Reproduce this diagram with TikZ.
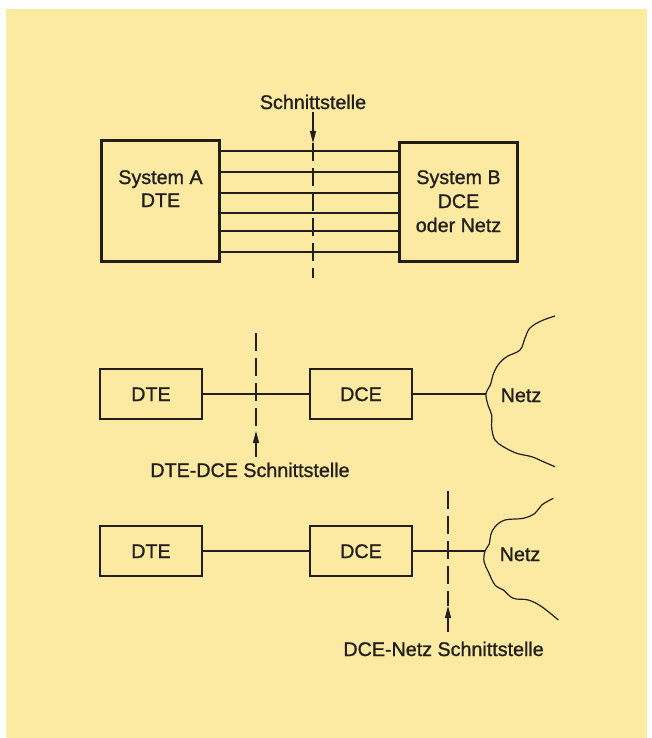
\documentclass[tikz,border=0pt]{standalone}
\usepackage{fontspec}
\setmainfont{Liberation Sans}
\newfontfamily\medfont{Liberation Sans}[FakeBold=1.1]
\usetikzlibrary{arrows.meta}
\definecolor{paper}{RGB}{252,233,162}
\definecolor{ink}{RGB}{34,31,27}
\begin{document}
\begin{tikzpicture}[x=1pt,y=-1pt,
  box/.style={draw=ink, line width=2.6pt, inner sep=0pt},
  lbl/.style={font=\medfont\fontsize{19.7}{23.5}\selectfont, text=ink, inner sep=0pt, anchor=base},
  wire/.style={draw=ink, line width=1.3pt},
  cut/.style={draw=ink, line width=1.3pt, dash pattern=on 18pt off 7pt},
  arr/.style={draw=ink, line width=1.2pt, -{Triangle[length=12pt,width=6pt]}},
  cloud/.style={draw=ink, line width=1.2pt, smooth, tension=0.6}
]
\useasboundingbox (0,0) rectangle (652,738);
\fill[white] (0,0) rectangle (652,738);
\fill[paper] (6,9) rectangle (647,738);

% ---------- top ----------
\node[box, minimum width=118.4pt, minimum height=121.4pt] (sysA) at (160.5,201) {};
\node[box, minimum width=118.4pt, minimum height=119.4pt] (sysB) at (458.5,202) {};
\node[lbl] (tA1) at (160.5,184) {System A};
\node[lbl] (tA2) at (160.5,207) {DTE};
\node[lbl] (tB1) at (458.5,184) {System B};
\node[lbl] (tB2) at (458.5,208) {DCE};
\node[lbl] (tB3) at (458.5,232) {oder Netz};
\foreach \yy in {151,172,193,213,231,252}{
  \draw[wire] (sysA.east |- 0,\yy) -- (sysB.west |- 0,\yy);
}
\node[lbl] (ifc1) at (313,109) {Schnittstelle};
\coordinate (c1top) at (313,143);
\coordinate (c1bot) at (313,278);
\draw[cut] (c1top) -- (c1bot);
\draw[arr] (ifc1.south |- 0,112) -- (c1top);

% ---------- middle ----------
\node[box, minimum width=102pt, minimum height=50pt] (dte1) at (151,394) {};
\node[box, minimum width=102pt, minimum height=50pt] (dce1) at (361,394) {};
\node[lbl] (tdte1) at (151,401) {DTE};
\node[lbl] (tdce1) at (361,401) {DCE};
\node[lbl] (netz1) at (521,402) {Netz};
\coordinate (j1) at (486,394);
\draw[wire] (dte1.east) -- (dce1.west);
\draw[wire] (dce1.east) -- (j1);
\draw[cloud] plot coordinates {(555,316) (541.7,320.7) (530,328) (525,338) (520,350) (506.7,356.7) (498,365) (493,375) (490.7,384) (486,394) (488.3,406) (491.7,415) (491.7,428.3) (495,440) (503.3,446.7) (516.7,453.3) (531.7,456.7) (543.3,461.7) (555,466.7)};
\coordinate (c2top) at (256,333);
\coordinate (c2bot) at (256,431);
\draw[cut] (c2top) -- (c2bot);
\node[lbl] (ifc2) at (250,477) {DTE-DCE Schnittstelle};
\coordinate (a2) at (256,457);
\draw[arr] (a2) -- (c2bot);

% ---------- bottom ----------
\node[box, minimum width=102pt, minimum height=50pt] (dte2) at (151,551) {};
\node[box, minimum width=102pt, minimum height=50pt] (dce2) at (361,551) {};
\node[lbl] (tdte2) at (151,558) {DTE};
\node[lbl] (tdce2) at (361,558) {DCE};
\node[lbl] (netz2) at (520,561) {Netz};
\coordinate (j2) at (485,551);
\draw[wire] (dte2.east) -- (dce2.west);
\draw[wire] (dce2.east) -- (j2);
\draw[cloud] plot coordinates {(553.3,498.3) (541.7,505) (535,513.3) (523.3,518.3) (505,520) (495,526.7) (490.7,535) (489.3,544) (485,551) (484,561.7) (488.3,571.7) (495,585) (503.3,590) (513.3,598.3) (528.3,600) (541.7,606.7) (558.3,620)};
\coordinate (c3top) at (448,491);
\coordinate (c3bot) at (448,606);
\draw[cut] (c3top) -- (c3bot);
\node[lbl] (ifc3) at (443.6,656) {DCE-Netz Schnittstelle};
\coordinate (a3) at (448,632);
\draw[arr] (a3) -- (c3bot);
\end{tikzpicture}
\end{document}
